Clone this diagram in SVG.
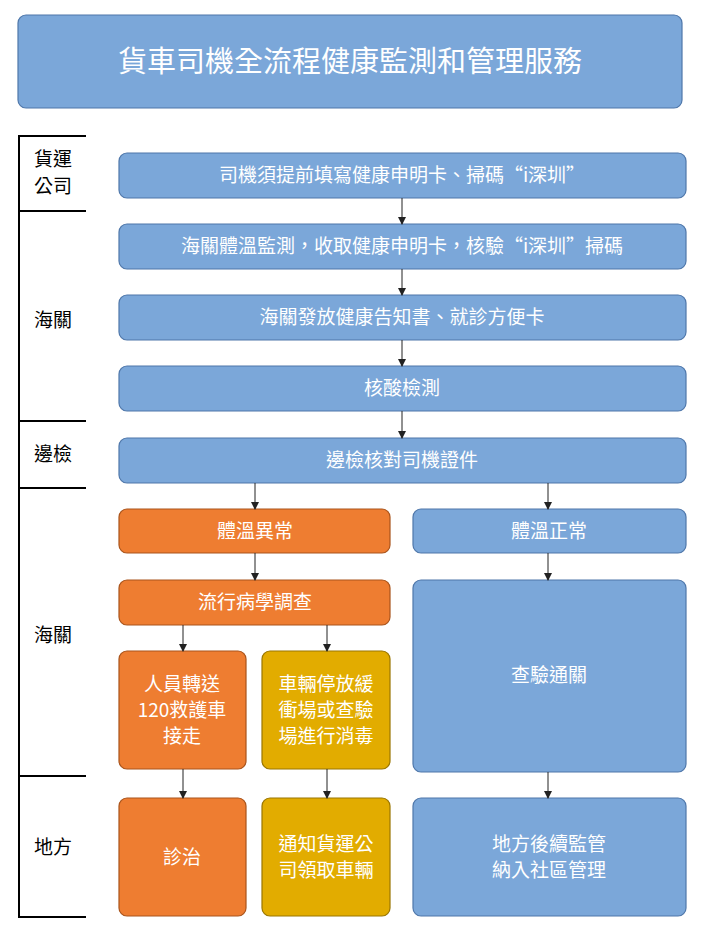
<svg xmlns="http://www.w3.org/2000/svg" width="701" height="933" viewBox="0 0 701 933">
<style>
text{font-family:"Noto Sans CJK TC","Noto Sans CJK SC",sans-serif;}
.b{fill:#7ba7d9;stroke:#4f77aa;stroke-width:1.2}
.o{fill:#ee7d31;stroke:#a9541c;stroke-width:1.2}
.y{fill:#e2ac00;stroke:#9a7600;stroke-width:1.2}
.t{fill:#fff;font-size:19px;text-anchor:middle}
.l{fill:#000;font-size:19px}
.c{stroke:#222;stroke-width:1;fill:none;marker-end:url(#a)}
.k{stroke:#000;stroke-width:2;fill:none}
</style>
<defs><marker id="a" markerWidth="8" markerHeight="8" refX="7" refY="4" orient="auto" markerUnits="userSpaceOnUse"><path d="M0,0L8,4L0,8z" fill="#222"/></marker></defs>
<rect width="701" height="933" fill="#fff"/>
<g id="title"><rect class="b" x="18" y="15" width="664" height="93" rx="8"/><text class="t" x="350" y="72" style="font-size:29px">貨車司機全流程健康監測和管理服務</text></g>
<g id="lanes">
<path class="k" d="M19,136V917M18,136H86M18,211H86M18,421H86M18,488H86M18,776H86M18,917H86"/>
<text class="l" x="34" y="166">貨運</text><text class="l" x="34" y="193">公司</text>
<text class="l" x="34" y="327">海關</text>
<text class="l" x="34" y="461">邊檢</text>
<text class="l" x="34" y="642">海關</text>
<text class="l" x="34" y="854">地方</text>
</g>
<g id="n1"><rect class="b" x="119" y="153" width="567" height="45" rx="8"/><text class="t" x="402" y="182">司機須提前填寫健康申明卡、掃碼“i深圳”</text></g>
<g id="n2"><rect class="b" x="119" y="224" width="567" height="45" rx="8"/><text class="t" x="402" y="253">海關體溫監測，收取健康申明卡，核驗“i深圳”掃碼</text></g>
<g id="n3"><rect class="b" x="119" y="295" width="567" height="45" rx="8"/><text class="t" x="402" y="324">海關發放健康告知書、就診方便卡</text></g>
<g id="n4"><rect class="b" x="119" y="366" width="567" height="45" rx="8"/><text class="t" x="402" y="395">核酸檢測</text></g>
<g id="n5"><rect class="b" x="119" y="438" width="567" height="45" rx="8"/><text class="t" x="402" y="467">邊檢核對司機證件</text></g>
<g id="n6"><rect class="o" x="119" y="509" width="271" height="44" rx="8"/><text class="t" x="255" y="538">體溫異常</text></g>
<g id="n7"><rect class="b" x="413" y="509" width="273" height="44" rx="8"/><text class="t" x="549" y="538">體溫正常</text></g>
<g id="n8"><rect class="o" x="119" y="580" width="271" height="45" rx="8"/><text class="t" x="255" y="609">流行病學調查</text></g>
<g id="n9"><rect class="b" x="413" y="580" width="273" height="192" rx="8"/><text class="t" x="549" y="682">查驗通關</text></g>
<g id="n10"><rect class="o" x="119" y="651" width="127" height="118" rx="8"/><text class="t" x="182" y="691">人員轉送</text><text class="t" x="182" y="717">120救護車</text><text class="t" x="182" y="743">接走</text></g>
<g id="n11"><rect class="y" x="262" y="651" width="128" height="118" rx="8"/><text class="t" x="326" y="691">車輛停放緩</text><text class="t" x="326" y="717">衝場或查驗</text><text class="t" x="326" y="743">場進行消毒</text></g>
<g id="n12"><rect class="o" x="119" y="798" width="127" height="118" rx="8"/><text class="t" x="182" y="864">診治</text></g>
<g id="n13"><rect class="y" x="262" y="798" width="128" height="118" rx="8"/><text class="t" x="326" y="851">通知貨運公</text><text class="t" x="326" y="877">司領取車輛</text></g>
<g id="n14"><rect class="b" x="413" y="798" width="273" height="118" rx="8"/><text class="t" x="549" y="851">地方後續監管</text><text class="t" x="549" y="877">納入社區管理</text></g>
<g id="connectors">
<path class="c" d="M402,198V224"/><path class="c" d="M402,269V295"/><path class="c" d="M402,340V366"/><path class="c" d="M402,411V438"/>
<path class="c" d="M255,483V509"/><path class="c" d="M548,483V509"/><path class="c" d="M255,553V580"/><path class="c" d="M548,553V580"/>
<path class="c" d="M183,625V651"/><path class="c" d="M327,625V651"/>
<path class="c" d="M183,769V798"/><path class="c" d="M327,769V798"/><path class="c" d="M548,772V798"/>
</g>
</svg>
